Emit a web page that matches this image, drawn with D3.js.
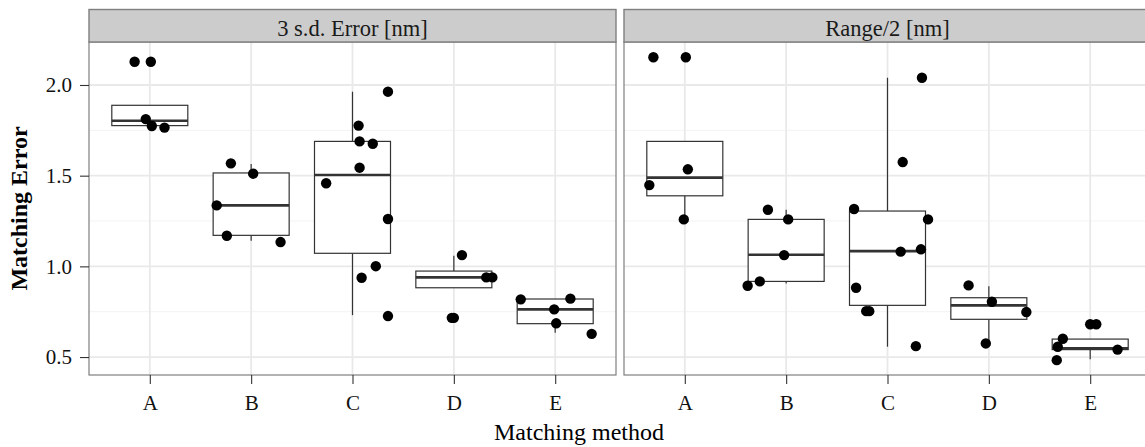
<!DOCTYPE html>
<meta charset="utf-8">
<style>

body {
  margin: 0;
  overflow: hidden;
  background: #fff;
  font-family: "Liberation Serif", "DejaVu Serif", serif;
}

.axis path {
  display: none;
}

.axis line {
  stroke: #333;
  stroke-width: 1.1px;
}

.axis text {
  font-family: "Liberation Serif", serif;
  font-size: 21px;
  fill: #111;
}

.grid-major {
  stroke: #e9e9e9;
  stroke-width: 1.8px;
}

.grid-minor {
  stroke: #f3f3f3;
  stroke-width: 1px;
}

.frame {
  fill: none;
  stroke: #7f7f7f;
  stroke-width: 1.2px;
}

.strip {
  fill: #cccccc;
  stroke: #7f7f7f;
  stroke-width: 1.4px;
}

.box {
  fill: #fff;
  stroke: #333;
  stroke-width: 1.2px;
}

.whisker {
  stroke: #333;
  stroke-width: 1.2px;
}

.median {
  stroke: #333;
  stroke-width: 2.6px;
}

</style>
<body>
  <script src="https://d3js.org/d3.v7.min.js"></script>
  <script>

    // categories and facets
    var methods = ["A", "B", "C", "D", "E"];
    var facets = ["3 s.d. Error [nm]", "Range/2 [nm]"];
    var yTicks = [0.5, 1.0, 1.5, 2.0];
    var yMinor = [0.75, 1.25, 1.75];

    // box stats per method: [lower whisker, q1, median, q3, upper whisker]
    var sdBoxes = [
      [1.776, 1.776, 1.803, 1.888, 1.888],
      [1.141, 1.171, 1.336, 1.515, 1.564],
      [0.731, 1.072, 1.504, 1.689, 1.963],
      [0.882, 0.882, 0.939, 0.974, 1.058],
      [0.634, 0.684, 0.763, 0.820, 0.820]
    ];
    var rangeBoxes = [
      [1.259, 1.389, 1.489, 1.689, 1.689],
      [0.906, 0.917, 1.064, 1.259, 1.312],
      [0.557, 0.785, 1.084, 1.305, 2.040],
      [0.575, 0.708, 0.785, 0.827, 0.891],
      [0.488, 0.541, 0.548, 0.599, 0.599]
    ];

    // jittered points: [method, jitter offset, value]
    var sdPoints = [
      ["A", -0.15, 2.128], ["A", 0.01, 2.128], ["A", -0.04, 1.812], ["A", 0.02, 1.774], ["A", 0.145, 1.765],
      ["B", -0.20, 1.568], ["B", 0.02, 1.511], ["B", -0.34, 1.336], ["B", -0.24, 1.169], ["B", 0.29, 1.134],
      ["C", 0.06, 1.776], ["C", 0.07, 1.689], ["C", 0.20, 1.676], ["C", 0.07, 1.544], ["C", -0.26, 1.458],
      ["C", 0.35, 1.963], ["C", 0.35, 1.261], ["C", 0.09, 0.937], ["C", 0.23, 1.001], ["C", 0.35, 0.726],
      ["D", 0.08, 1.062], ["D", 0.32, 0.939], ["D", 0.38, 0.939], ["D", 0.00, 0.716], ["D", -0.02, 0.716],
      ["E", -0.34, 0.818], ["E", 0.15, 0.822], ["E", -0.01, 0.763], ["E", 0.01, 0.686], ["E", 0.36, 0.628]
    ];
    var rangePoints = [
      ["A", -0.31, 2.153], ["A", 0.01, 2.153], ["A", 0.03, 1.535], ["A", -0.35, 1.448], ["A", -0.01, 1.259],
      ["B", -0.18, 1.312], ["B", 0.02, 1.259], ["B", -0.02, 1.062], ["B", -0.38, 0.893], ["B", -0.26, 0.917],
      ["C", 0.34, 2.040], ["C", 0.15, 1.575], ["C", -0.33, 1.316], ["C", 0.40, 1.259], ["C", 0.13, 1.081],
      ["C", 0.33, 1.094], ["C", -0.31, 0.882], ["C", -0.21, 0.753], ["C", -0.18, 0.753], ["C", 0.28, 0.560],
      ["D", -0.20, 0.895], ["D", 0.03, 0.805], ["D", 0.37, 0.748], ["D", -0.03, 0.575],
      ["E", 0.00, 0.681], ["E", 0.06, 0.681], ["E", -0.27, 0.601], ["E", -0.32, 0.557], ["E", -0.33, 0.483], ["E", 0.27, 0.541]
    ];

    var panelData = [
      {title: facets[0], boxes: sdBoxes, points: sdPoints},
      {title: facets[1], boxes: rangeBoxes, points: rangePoints}
    ];

    var totalWidth = 1158, totalHeight = 447;
    var left = 89, stripTop = 9.5, stripH = 32.5,
        panelTop = 42, panelBottom = 375,
        panelW = 527, gap = 8;
    var height = panelBottom - panelTop;

    var svg = d3.select("body").append("svg")
        .attr("width", totalWidth)
        .attr("height", totalHeight);

    var y = d3.scaleLinear()
        .domain([0.401, 2.237])
        .range([height, 0]);

    var x = d3.scalePoint()
        .domain(methods)
        .range([0, panelW])
        .padding(0.6);

    var boxW = x.step() * 0.75;

    panelData.forEach(function(p, i) {
      var px = left + i * (panelW + gap);
      var g = svg.append("g")
          .attr("transform", "translate(" + px + "," + panelTop + ")");

      // grid
      g.selectAll(".grid-minor")
          .data(yMinor)
        .enter().append("line")
          .attr("class", "grid-minor")
          .attr("x1", 0).attr("x2", panelW)
          .attr("y1", function(d) { return y(d); })
          .attr("y2", function(d) { return y(d); });

      g.selectAll(".grid-major.h")
          .data(yTicks)
        .enter().append("line")
          .attr("class", "grid-major h")
          .attr("x1", 0).attr("x2", panelW)
          .attr("y1", function(d) { return y(d); })
          .attr("y2", function(d) { return y(d); });

      g.selectAll(".grid-major.v")
          .data(methods)
        .enter().append("line")
          .attr("class", "grid-major v")
          .attr("y1", 0).attr("y2", height)
          .attr("x1", function(d) { return x(d); })
          .attr("x2", function(d) { return x(d); });

      // boxplots
      var bx = g.selectAll(".bp")
          .data(p.boxes)
        .enter().append("g")
          .attr("class", "bp")
          .attr("transform", function(d, j) { return "translate(" + x(methods[j]) + ",0)"; });

      bx.append("line")
          .attr("class", "whisker")
          .attr("x1", 0).attr("x2", 0)
          .attr("y1", function(d) { return y(d[3]); })
          .attr("y2", function(d) { return y(d[4]); });

      bx.append("line")
          .attr("class", "whisker")
          .attr("x1", 0).attr("x2", 0)
          .attr("y1", function(d) { return y(d[1]); })
          .attr("y2", function(d) { return y(d[0]); });

      bx.append("rect")
          .attr("class", "box")
          .attr("x", -boxW / 2)
          .attr("width", boxW)
          .attr("y", function(d) { return y(d[3]); })
          .attr("height", function(d) { return y(d[1]) - y(d[3]); });

      bx.append("line")
          .attr("class", "median")
          .attr("x1", -boxW / 2).attr("x2", boxW / 2)
          .attr("y1", function(d) { return y(d[2]); })
          .attr("y2", function(d) { return y(d[2]); });

      // jittered points
      g.selectAll(".pt")
          .data(p.points)
        .enter().append("circle")
          .attr("class", "pt")
          .attr("r", 5.2)
          .attr("fill", "#000")
          .attr("cx", function(d) { return x(d[0]) + d[1] * x.step(); })
          .attr("cy", function(d) { return y(d[2]); });

      g.append("rect")
          .attr("class", "frame")
          .attr("width", panelW)
          .attr("height", height);

      // x axis
      g.append("g")
          .attr("class", "x axis")
          .attr("transform", "translate(0," + height + ")")
          .call(d3.axisBottom(x).tickSize(9).tickPadding(11.5));

      // strip
      svg.append("rect")
          .attr("class", "strip")
          .attr("x", px)
          .attr("y", stripTop)
          .attr("width", panelW)
          .attr("height", stripH);

      svg.append("text")
          .attr("x", px + panelW / 2)
          .attr("y", 35.5)
          .attr("text-anchor", "middle")
          .style("font-size", "22.5px")
          .style("fill", "#1a1a1a")
          .text(p.title);

      if (i === 0) {
        g.append("g")
            .attr("class", "y axis")
            .call(d3.axisLeft(y)
              .tickValues(yTicks)
              .tickFormat(d3.format(".1f"))
              .tickSize(9)
              .tickPadding(8));
      }
    });

    svg.append("text")
        .attr("x", totalWidth / 2)
        .attr("y", 440)
        .attr("text-anchor", "middle")
        .style("font-size", "24px")
        .text("Matching method");

    svg.append("text")
        .attr("transform", "translate(27," + (panelTop + height / 2) + ") rotate(-90)")
        .attr("text-anchor", "middle")
        .style("font-size", "24px")
        .style("font-weight", "bold")
        .text("Matching Error");

  </script>
</body>
</html>
